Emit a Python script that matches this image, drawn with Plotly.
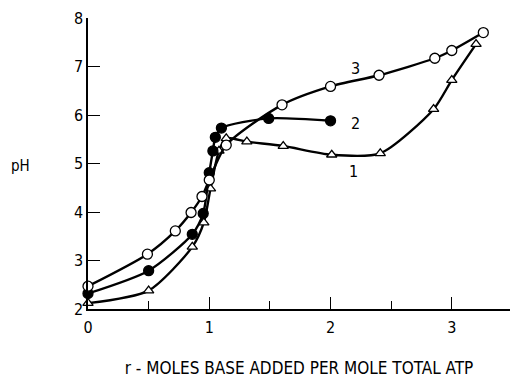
import plotly.graph_objects as go

# Curve 1 (open triangles)
x1 = [0.0, 0.5, 0.86, 0.955, 1.01, 1.08, 1.14, 1.31, 1.61, 2.01, 2.41, 2.85, 3.0, 3.2]
y1 = [2.12, 2.38, 3.28, 3.78, 4.48, 5.26, 5.52, 5.45, 5.36, 5.18, 5.21, 6.12, 6.72, 7.46]
# Curve 2 (filled circles)
x2 = [0.0, 0.5, 0.86, 0.95, 1.0, 1.03, 1.05, 1.10, 1.49, 2.0]
y2 = [2.32, 2.79, 3.54, 3.97, 4.81, 5.26, 5.54, 5.73, 5.93, 5.88]
# Curve 3 (open circles)
x3 = [0.0, 0.49, 0.72, 0.85, 0.94, 1.0, 1.14, 1.60, 2.0, 2.40, 2.86, 3.0, 3.26]
y3 = [2.47, 3.13, 3.61, 3.99, 4.32, 4.66, 5.38, 6.21, 6.59, 6.82, 7.17, 7.33, 7.70]

curve_labels = ["1", "2", "3"]
label_x = [2.19, 2.21, 2.21]
label_y = [4.83, 5.83, 6.96]

x_ticks = [0, 1, 2, 3]
y_ticks = [2, 3, 4, 5, 6, 7, 8]

FONT = "Liberation Sans Narrow, DejaVu Sans Condensed, DejaVu Sans, sans-serif"

fig = go.Figure()
common_line = dict(color="black", width=2.4, shape="spline", smoothing=0.7)
fig.add_trace(go.Scatter(x=x1, y=y1, mode="lines+markers", line=common_line, cliponaxis=False,
                         marker=dict(symbol="triangle-up", size=9, color="white",
                                     line=dict(color="black", width=1.3))))
fig.add_trace(go.Scatter(x=x2, y=y2, mode="lines+markers", line=common_line, cliponaxis=False,
                         marker=dict(symbol="circle", size=10, color="black",
                                     line=dict(color="black", width=1.3))))
fig.add_trace(go.Scatter(x=x3, y=y3, mode="lines+markers", line=common_line, cliponaxis=False,
                         marker=dict(symbol="circle", size=10, color="white",
                                     line=dict(color="black", width=1.3))))

for t, lx, ly in zip(curve_labels, label_x, label_y):
    fig.add_annotation(x=lx, y=ly, text=t, showarrow=False,
                       font=dict(family=FONT, size=16, color="black"))

fig.add_annotation(xref="paper", yref="paper", x=-0.16, y=0.49, text="pH",
                   showarrow=False, xanchor="center", yanchor="middle",
                   font=dict(family=FONT, size=15, color="black"))

fig.update_layout(
    width=511, height=381,
    margin=dict(l=88, r=1, t=18, b=72),
    paper_bgcolor="white", plot_bgcolor="white",
    showlegend=False,
    font=dict(family=FONT, size=16, color="black"),
    xaxis=dict(range=[0, 3.48], tickvals=x_ticks, ticks="inside", ticklen=12,
               tickwidth=1.3, tickcolor="black", showline=True, linecolor="black",
               linewidth=1.5, showgrid=False, zeroline=False,
               ticklabelstandoff=3,
               minor=dict(tickvals=[0.5, 1.5, 2.5], ticks="inside", ticklen=8,
                          tickwidth=1.2, tickcolor="black", showgrid=False),
               title=dict(text="r - MOLES BASE ADDED PER MOLE TOTAL ATP",
                          font=dict(family=FONT, size=17), standoff=26)),
    yaxis=dict(range=[2, 8], tickvals=y_ticks, ticks="inside", ticklen=12,
               tickwidth=1.3, tickcolor="black", showline=True, linecolor="black",
               linewidth=1.5, showgrid=False, zeroline=False),
)

fig.write_html("out.html")
